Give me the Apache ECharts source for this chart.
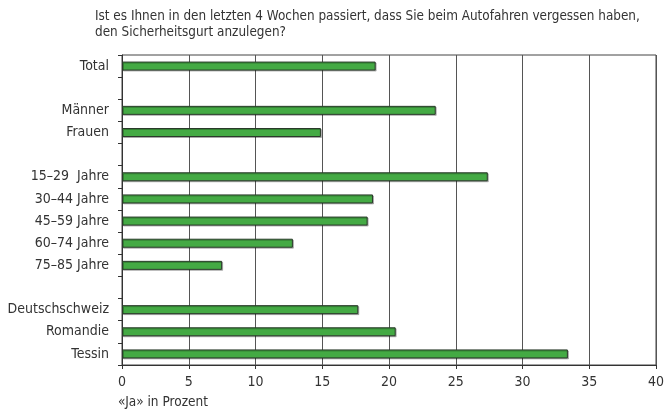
<!DOCTYPE html>
<html>
<head>
<meta charset="utf-8">
<script src="https://cdn.jsdelivr.net/npm/echarts@6/dist/echarts.min.js"></script>
<style>
  html, body { margin: 0; padding: 0; background: #fff; }
  #chart { width: 664px; height: 409px; }
</style>
</head>
<body>
<div id="chart"></div>
<script>
// Empty strings are spacer rows between the groups
const categories = [
  'Total', '',
  'Männer', 'Frauen', '',
  '15–29  Jahre', '30–44 Jahre', '45–59 Jahre', '60–74 Jahre', '75–85 Jahre', '',
  'Deutschschweiz', 'Romandie', 'Tessin'
];
const jaProzent = [
  19.0, null,
  23.5, 14.9, null,
  27.4, 18.8, 18.4, 12.8, 7.5, null,
  17.7, 20.5, 33.4
];
const xTicks = [0, 5, 10, 15, 20, 25, 30, 35, 40];

const FONT = '"Liberation Sans Narrow", "DejaVu Sans Condensed", "Liberation Sans", sans-serif';
const TEXT = '#333';
const chart = echarts.init(document.getElementById('chart'), null, { renderer: 'canvas' });

chart.setOption({
  animation: false,
  title: {
    text: 'Ist es Ihnen in den letzten 4 Wochen passiert, dass Sie beim Autofahren vergessen haben,\nden Sicherheitsgurt anzulegen?',
    left: 95, top: 9, padding: 0,
    textStyle: { fontFamily: FONT, fontSize: 13.4, fontWeight: 'normal', color: TEXT, lineHeight: 16 }
  },
  grid: {
    left: 122, right: 8, top: 55, bottom: 44,
    containLabel: false, outerBoundsMode: 'none',
    show: true, borderColor: '#444', borderWidth: 1
  },
  xAxis: {
    type: 'value',
    min: xTicks[0], max: xTicks[xTicks.length - 1], interval: 5,
    name: '«Ja» in Prozent',
    nameLocation: 'start',
    nameGap: 0,
    nameTextStyle: { fontFamily: FONT, fontSize: 13.5, color: TEXT, align: 'left', verticalAlign: 'top', padding: [30, 0, 0, -4] },
    axisLine: { show: true, lineStyle: { color: '#333', width: 1 } },
    axisTick: { show: true, length: 4, lineStyle: { color: '#333' } },
    axisLabel: { fontFamily: FONT, fontSize: 14, color: TEXT, margin: 10 },
    splitLine: { show: true, lineStyle: { color: '#555', width: 1 } }
  },
  yAxis: {
    type: 'category',
    data: categories,
    inverse: true,
    axisLine: { show: true, lineStyle: { color: '#333', width: 1 } },
    axisTick: { show: true, length: 4, lineStyle: { color: '#333' } },
    axisLabel: { fontFamily: FONT, fontSize: 14, color: TEXT, margin: 13 },
    splitLine: { show: false }
  },
  series: [{
    type: 'bar',
    data: jaProzent,
    barWidth: 9,
    itemStyle: {
      color: '#44aa44',
      borderColor: '#2a3a2a',
      borderWidth: 1,
      shadowColor: 'rgba(0,0,0,0.25)',
      shadowOffsetX: 1,
      shadowOffsetY: 1,
      shadowBlur: 0
    }
  }]
});
</script>
</body>
</html>
